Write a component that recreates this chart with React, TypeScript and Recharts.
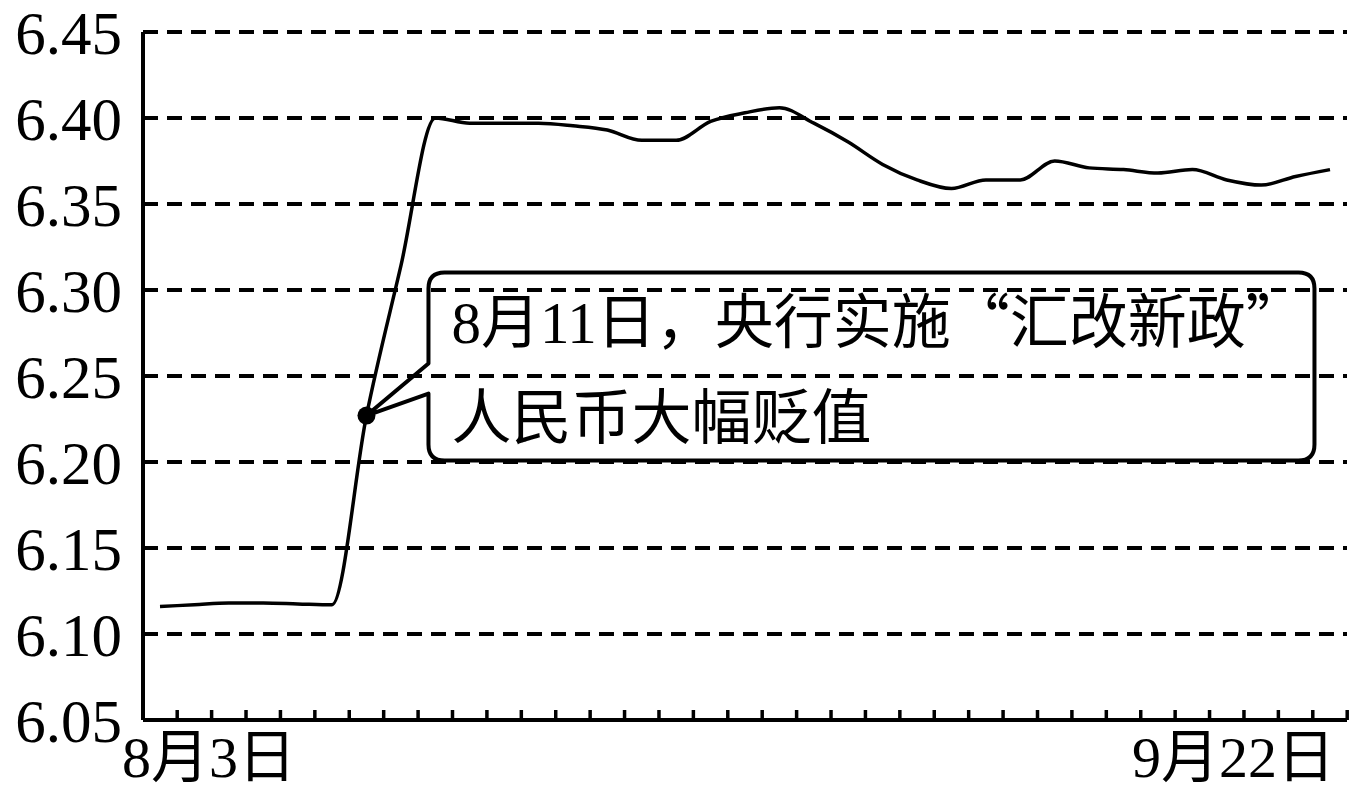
import { CartesianGrid, Line, LineChart, ReferenceDot, XAxis, YAxis } from 'recharts'

const FONT = "'Liberation Serif', 'Noto Sans CJK SC', serif"
const CJK = "'Noto Sans CJK SC', sans-serif"

// trading days, Aug 3 - Sep 22
const dates = [
  '8月3日', '8月4日', '8月5日', '8月6日', '8月7日',
  '8月10日', '8月11日', '8月12日', '8月13日', '8月14日',
  '8月17日', '8月18日', '8月19日', '8月20日', '8月21日',
  '8月24日', '8月25日', '8月26日', '8月27日', '8月28日',
  '8月31日', '9月1日', '9月2日', '9月7日', '9月8日',
  '9月9日', '9月10日', '9月11日', '9月14日', '9月15日',
  '9月16日', '9月17日', '9月18日', '9月21日', '9月22日',
]

const rates = [
  6.116, 6.117, 6.118, 6.118, 6.1175,
  6.117, 6.227, 6.314, 6.4, 6.397,
  6.397, 6.397, 6.3955, 6.393, 6.387,
  6.387, 6.398, 6.403, 6.406, 6.397,
  6.386, 6.373, 6.364, 6.359, 6.364,
  6.364, 6.375, 6.371, 6.37, 6.368,
  6.37, 6.364, 6.361, 6.366, 6.37,
]

const yTicks = [6.05, 6.1, 6.15, 6.2, 6.25, 6.3, 6.35, 6.4, 6.45]

const noteDate = '8月11日'
const noteLines = ['8月11日，央行实施“汇改新政”', '人民币大幅贬值']

const data = dates.map((date, i) => ({ date, rate: rates[i] }))

const HALF_STEP = 17.2 // small marks sit between trading days

function DateTick(props: any) {
  const { x, y, index, payload } = props
  const last = index === dates.length - 1
  const first = index === 0
  return (
    <g>
      <line x1={x + HALF_STEP} x2={x + HALF_STEP} y1={y} y2={y - 10} stroke="#000" strokeWidth={3.5} />
      {(first || last) && (
        <text
          x={first ? x - 38 : x + 5}
          y={y}
          dy={57}
          textAnchor={first ? 'start' : 'end'}
          fontSize={58}
          fontFamily={FONT}
          fill="#000"
        >
          {payload.value}
        </text>
      )}
    </g>
  )
}

function Callout(props: any) {
  const { cx, cy } = props
  if (cx == null || cy == null) return null
  const L = cx + 62
  const T = cy - 143
  const R = cx + 948
  const B = cy + 45
  const r = 16
  const d =
    `M${L},${cy - 52} L${L},${T + r} Q${L},${T} ${L + r},${T} ` +
    `L${R - r},${T} Q${R},${T} ${R},${T + r} L${R},${B - r} Q${R},${B} ${R - r},${B} ` +
    `L${L + r},${B} Q${L},${B} ${L},${B - r} L${L},${cy - 22} L${cx},${cy} Z`
  const parts = noteLines[0].split(/([“”])/).filter(Boolean)
  return (
    <g>
      <path d={d} fill="none" stroke="#000" strokeWidth={4} strokeLinejoin="round" />
      <circle cx={cx} cy={cy} r={9} fill="#000" />
      <text x={cx + 85} y={cy - 73} fontSize={59} fontFamily={FONT} fill="#000">
        {parts.map((p, i) => (
          <tspan key={i} fontFamily={p === '“' || p === '”' ? CJK : FONT}>
            {p}
          </tspan>
        ))}
      </text>
      <text x={cx + 85} y={cy + 23} fontSize={60} fontFamily={FONT} fill="#000">
        {noteLines[1]}
      </text>
    </g>
  )
}

export default function App() {
  return (
    <div style={{ position: 'absolute', left: 0, top: 0, background: '#fff' }}>
      <LineChart
        width={1351}
        height={791}
        data={data}
        margin={{ top: 32, right: 4, bottom: 0, left: 0 }}
      >
        <CartesianGrid vertical={false} stroke="#000" strokeWidth={4} strokeDasharray="15 9" />
        <XAxis
          dataKey="date"
          interval={0}
          padding={{ left: 17, right: 17 }}
          axisLine={{ stroke: '#000', strokeWidth: 4 }}
          tickLine={false}
          tickSize={0}
          tickMargin={0}
          height={71}
          tick={<DateTick />}
        />
        <YAxis
          domain={[6.05, 6.45]}
          ticks={yTicks}
          interval={0}
          width={143}
          axisLine={{ stroke: '#000', strokeWidth: 4 }}
          tickLine={false}
          tickSize={0}
          tickMargin={21}
          tick={{ fill: '#000', fontSize: 61, fontFamily: FONT }}
          tickFormatter={(v: number) => v.toFixed(2)}
        />
        <Line
          dataKey="rate"
          type="monotone"
          stroke="#000"
          strokeWidth={3.5}
          dot={false}
          isAnimationActive={false}
        />
        <ReferenceDot x={noteDate} y={rates[6]} shape={Callout} />
      </LineChart>
    </div>
  )
}
